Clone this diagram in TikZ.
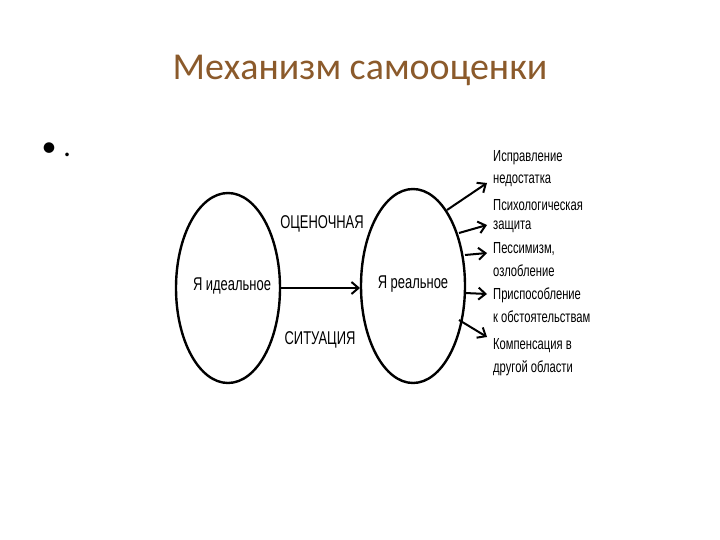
\documentclass[tikz,border=0pt]{standalone}
\usepackage{fontspec}
\setmainfont{Carlito}
\newfontfamily\narrowf[FakeStretch=0.7]{Liberation Sans}
\definecolor{titlec}{HTML}{8B5A2B}
\begin{document}
\begin{tikzpicture}[x=1pt,y=-1pt,
  lab/.style={font=\narrowf\fontsize{16}{18}\selectfont,inner sep=0pt,anchor=west},
  big/.style={font=\narrowf\fontsize{18.5}{20}\selectfont,inner sep=0pt},
  arr/.style={line width=2pt,-{Straight Barb[length=7pt,width=12pt]}}]
\usetikzlibrary{arrows.meta}
\useasboundingbox (0,0) rectangle (720,540);
\node[font=\fontsize{38}{44}\selectfont,text=titlec] (title) at (360,70) {Механизм самооценки};
\node[font=\fontsize{30}{32}\selectfont,anchor=west] (bul) at (38,150) {• .};
\draw[line width=2.4pt] (228,288) ellipse [x radius=52,y radius=95];
\draw[line width=2.4pt] (413,286) ellipse [x radius=52,y radius=97];
\node[big] (ide) at (232,286) {Я идеальное};
\node[big] (rea) at (413,284) {Я реальное};
\node[big] (oc) at (322,224) {ОЦЕНОЧНАЯ};
\node[big] (si) at (320,340) {СИТУАЦИЯ};
\coordinate (l1) at (280,288); \coordinate (r1) at (360,288);
\draw[arr] (l1) -- (r1);
\coordinate (s1) at (447,210); \coordinate (e1) at (487,183);
\coordinate (s2) at (459,233); \coordinate (e2) at (487,225);
\coordinate (s3) at (465,255); \coordinate (e3) at (487,253);
\coordinate (s4) at (465,293); \coordinate (e4) at (487,294);
\coordinate (s5) at (459,320); \coordinate (e5) at (487,337);
\foreach \i in {1,...,5} \draw[arr] (s\i) -- (e\i);
\node[lab] (t1) at (493,158) {Исправление};
\node[lab] (t2) at (493,181) {недостатка};
\node[lab] (t3) at (493,205) {Психологическая};
\node[lab] (t4) at (493,227) {защита};
\node[lab] (t5) at (493,249) {Пессимизм,};
\node[lab] (t6) at (493,271) {озлобление};
\node[lab] (t7) at (493,295) {Приспособление};
\node[lab] (t8) at (493,317) {к обстоятельствам};
\node[lab] (t9) at (493,346) {Компенсация в};
\node[lab] (t10) at (493,368) {другой области};
\end{tikzpicture}
\end{document}
